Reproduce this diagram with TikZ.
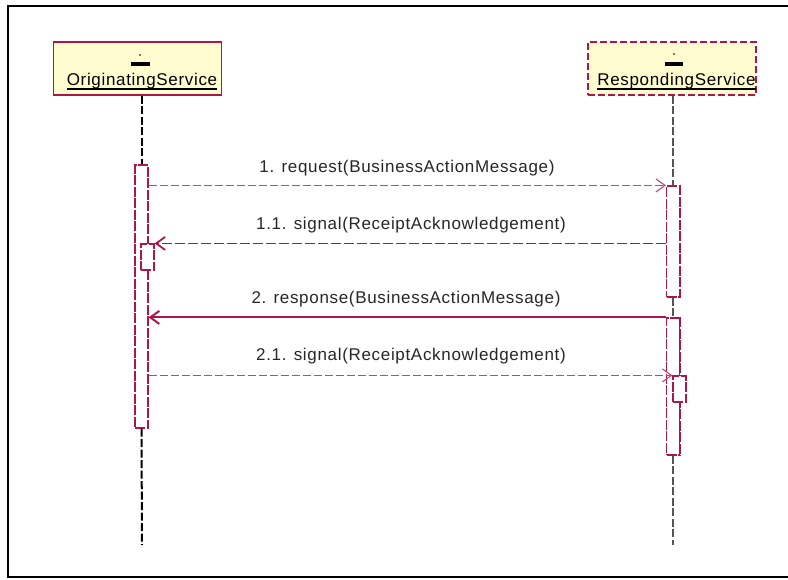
\documentclass[tikz,border=0pt]{standalone}
\usepackage{fontspec}
\setmainfont{Liberation Sans}[LetterSpace=4]
\usetikzlibrary{arrows.meta}
\definecolor{umlred}{RGB}{172,22,72}
\definecolor{umlpink}{RGB}{196,70,116}
\definecolor{umlfill}{RGB}{255,253,208}
\definecolor{lifegray}{RGB}{85,85,85}
\tikzset{
  objbox/.style={draw=umlred, fill=umlfill, line width=1.3pt, minimum width=168pt, minimum height=53pt, inner sep=0pt},
  objname/.style={font=\fontsize{17}{20}\selectfont, inner sep=0pt, anchor=base},
  uline/.style={line width=2pt, black},
  actbox/.style={draw=umlred, fill=white, line width=1.2pt, dash pattern=on 10pt off 1.5pt, minimum width=13pt, inner sep=0pt},
  actedge/.style={umlred, line width=2.2pt, dash pattern=on 10pt off 1.5pt},
  lifeL/.style={black, line width=2pt, dash pattern=on 8pt off 2.5pt},
  lifeR/.style={lifegray, line width=1.5pt, dash pattern=on 8pt off 2.5pt},
  msglight/.style={umlpink, line width=1.1pt, dash pattern=on 8pt off 3pt, -{Straight Barb[length=9pt,width=13pt]}},
  msgdark/.style={umlred, line width=1.8pt, dash pattern=on 10pt off 3pt, -{Straight Barb[length=9pt,width=13pt]}},
  msgsolid/.style={umlred, line width=2pt, -{Straight Barb[length=9pt,width=13pt]}},
  msglabel/.style={font=\fontsize{17}{20}\selectfont, inner sep=0pt, anchor=base, text=black!85}
}
\begin{document}
\begin{tikzpicture}[x=1pt, y=-1pt]
\useasboundingbox (0,0) rectangle (788,579);
% outer frame
\draw[line width=2.2pt] (8,6) rectangle (795,577);

% object headers
\node[objbox] (hdrL) at (137.5,68.5) {};
\node[objbox, dash pattern=on 7pt off 3pt, line width=1.2pt] (hdrR) at (672,68.5) {};
\node[objname] (nameL) at (142,85) {OriginatingService};
\node[objname] (nameR) at (676.5,85) {RespondingService};
\draw[uline] ([yshift=-3.5pt]nameL.base west) -- ([yshift=-3.5pt]nameL.base east);
\draw[uline] ([yshift=-3.5pt]nameR.base west) -- ([yshift=-3.5pt]nameR.base east);
% anonymous instance marks
\fill (140,55) circle (0.9pt);
\fill (131,62) rectangle (150,65.5);
\fill (674,54) circle (0.9pt);
\fill (665,62) rectangle (683,65.5);

% lifeline end points
\coordinate (endL) at (142,545);
\coordinate (endR) at (673,545);

% activation bars
\node[actbox, minimum height=263pt] (actL) at (141.5,296.5) {};
\node[actbox, minimum height=111pt] (actR1) at (673,241.5) {};
\node[actbox, minimum height=137pt] (actR2) at (673,386.5) {};
\draw[actedge] (actR1.north east) -- (actR1.south east);
\draw[actedge] (actR2.north east) -- (actR2.south east);

% lifelines
\draw[lifeL] (hdrL.south -| actL.north) -- (actL.north);
\draw[lifeL] (actL.south) -- (endL);
\draw[lifeR] (hdrR.south -| actR1.north) -- (actR1.north);
\draw[lifeR] (actR1.south) -- (actR2.north);
\draw[lifeR] (actR2.south) -- (endR);

% nested activations
\node[actbox, minimum height=26pt] (actLn) at (147.5,257) {};
\node[actbox, minimum height=26pt] (actRn) at (679.5,389) {};

% messages
\draw[msglight] (actL.east |- actR1.north) -- (actR1.north west);
\node[msglabel] (lab1) at (407,172.7) {1. request(BusinessActionMessage)};

\draw[msgdark] (actR1.west |- actLn.north) -- (actLn.north east);
\node[msglabel] (lab2) at (411,229.5) {1.1. signal(ReceiptAcknowledgement)};

\draw[msgsolid] (actR2.north west) -- (actL.east |- actR2.north);
\node[msglabel] (lab3) at (406,303) {2. response(BusinessActionMessage)};

\draw[msglight] (actL.east |- actRn.north) -- (actRn.north west);
\node[msglabel] (lab4) at (411,360) {2.1. signal(ReceiptAcknowledgement)};
\end{tikzpicture}
\end{document}
